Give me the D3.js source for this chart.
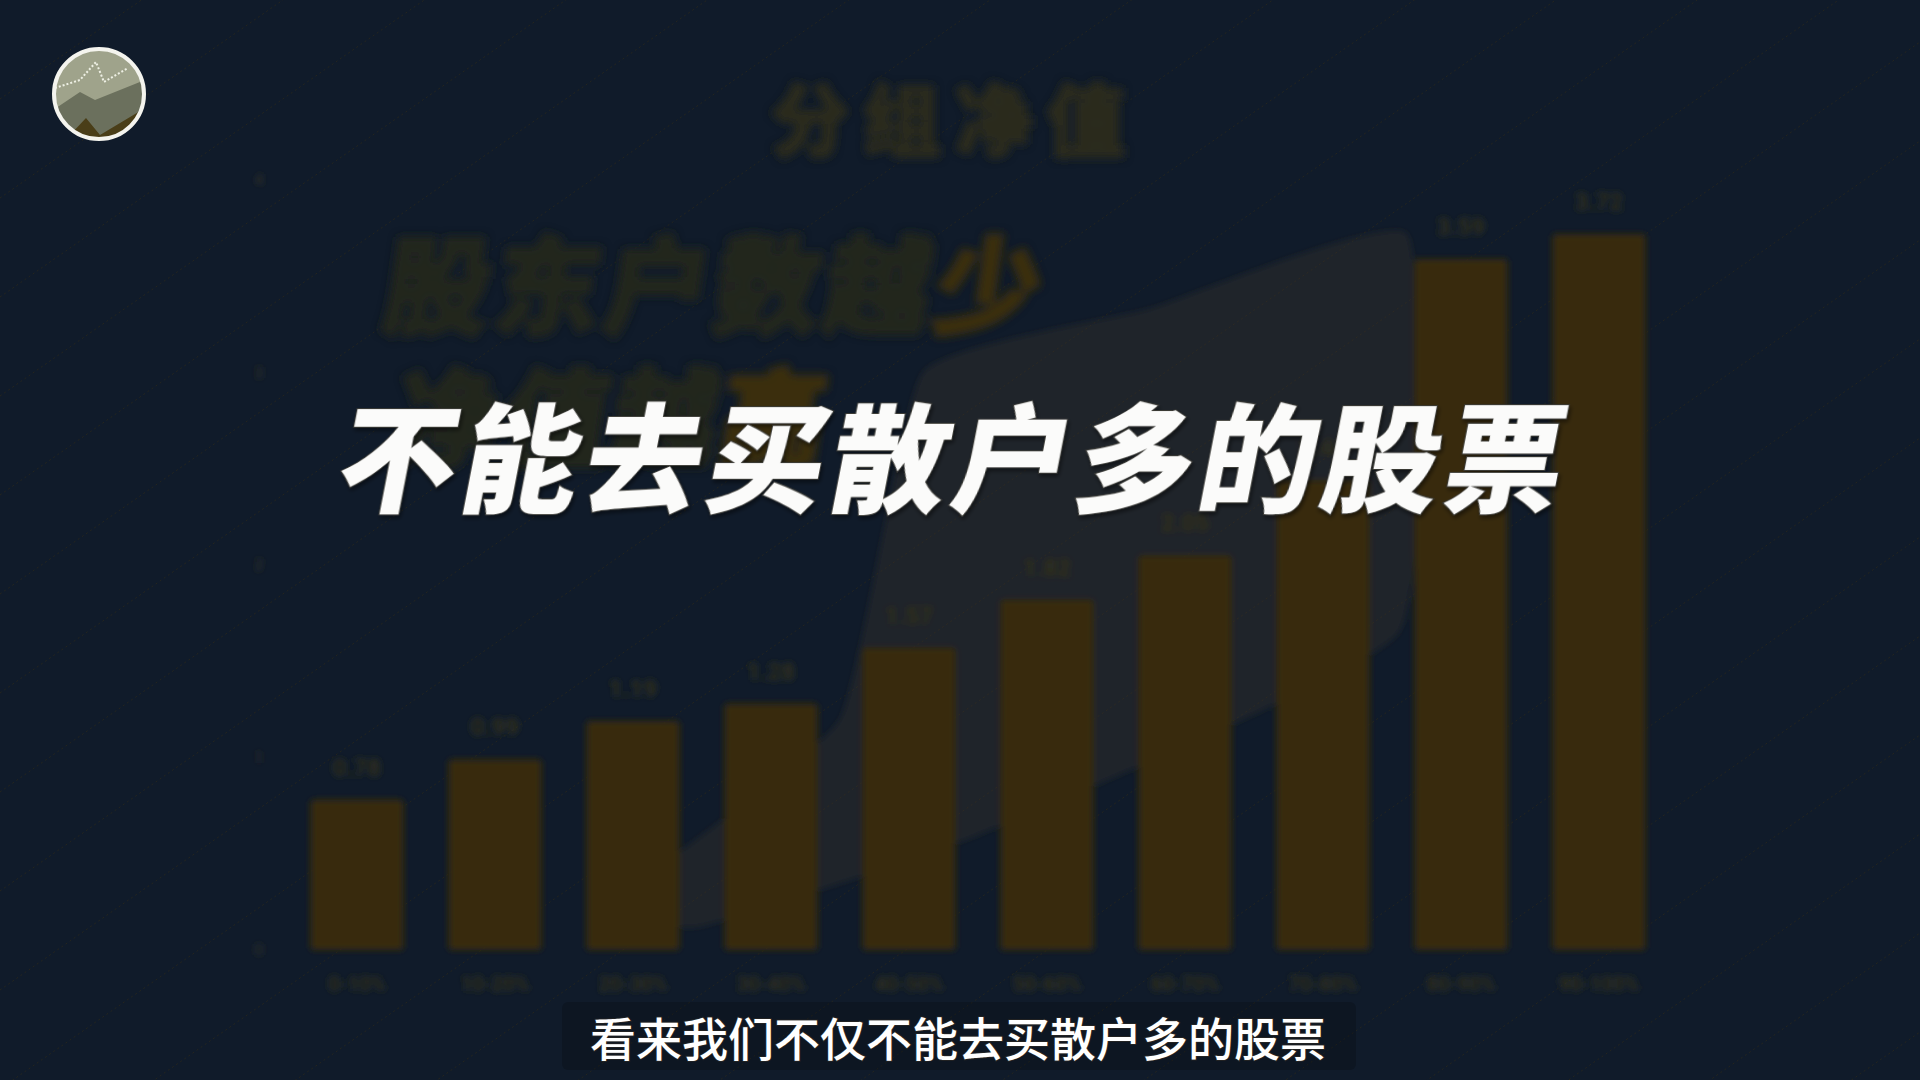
<!DOCTYPE html>
<html>
<head>
<meta charset="utf-8">
<script src="https://cdn.jsdelivr.net/npm/d3@7"></script>
<style>
  html, body { margin: 0; padding: 0; background: #101b2a; }
  svg { display: block; }
</style>
</head>
<body>
<div id="chart"></div>
<script>
// chart values
const categories = ['0-10%', '10-20%', '20-30%', '30-40%', '40-50%', '50-60%', '60-70%', '70-80%', '80-90%', '90-100%'];
const netValues = [0.78, 0.99, 1.19, 1.28, 1.57, 1.82, 2.05, 2.44, 3.59, 3.72];
const yTicks = [0, 1, 2, 3, 4];
// rising band behind the bars (category index, value)
const bandIndex = [1.9, 3.5, 4.1, 5.74, 7.61, 7.55, 4.51, 2.48];
const bandValue = [0.26, 1.2, 3.0, 3.33, 3.72, 1.65, 0.6, 0.12];

const chartTitle = '分组净值';
const headline1 = ['股东户数越', '少'];
const headline2 = ['净值越', '高'];
const caption = '不能去买散户多的股票';
const subtitle = '看来我们不仅不能去买散户多的股票';

const width = 1920;
const height = 1080;
const margin = {top: 180, right: 252, bottom: 130, left: 288};

const bg = '#101b2a';
const barColor = '#392c0c';
const dimText = '#24251e';
const dimGold = '#3a2e0f';

const svg = d3.select('#chart').append('svg')
    .attr('width', width).attr('height', height)
    .attr('viewBox', [0, 0, width, height]);

const defs = svg.append('defs');
defs.append('filter').attr('id', 'blur')
    .attr('x', '-10%').attr('y', '-10%').attr('width', '120%').attr('height', '120%')
    .append('feGaussianBlur').attr('stdDeviation', 3);
defs.append('filter').attr('id', 'blurText')
    .attr('x', '-10%').attr('y', '-30%').attr('width', '120%').attr('height', '160%')
    .append('feGaussianBlur').attr('stdDeviation', 4.5);
const shadow = defs.append('filter').attr('id', 'shadow');
shadow.append('feDropShadow').attr('dx', 2).attr('dy', 3).attr('stdDeviation', 2)
    .attr('flood-color', '#000').attr('flood-opacity', 0.45);
defs.append('clipPath').attr('id', 'avatarClip')
    .append('circle').attr('cx', 99).attr('cy', 94).attr('r', 44);

svg.append('rect').attr('width', width).attr('height', height).attr('fill', bg);

// faint diagonal stripes over the background
const stripes = svg.append('g').attr('stroke', '#2a281d').attr('stroke-width', 1)
    .attr('stroke-dasharray', '2 3').attr('opacity', 0.8);
stripes.selectAll('line').data(d3.range(-4, 34)).join('line')
    .attr('x1', 0).attr('y1', (k) => k * 99)
    .attr('x2', width).attr('y2', (k) => k * 99 - width * 0.7);

const x = d3.scaleBand().domain(categories)
    .range([margin.left, width - margin.right])
    .paddingInner(0.326).paddingOuter(0.163);
const y = d3.scaleLinear().domain([0, 4]).range([height - margin.bottom, margin.top]);
const xi = d3.scaleLinear().domain([0, categories.length - 1])
    .range([x(categories[0]) + x.bandwidth() / 2, x(categories[categories.length - 1]) + x.bandwidth() / 2]);

const chart = svg.append('g').attr('filter', 'url(#blur)');

// rising band
const band = d3.line().curve(d3.curveCardinalClosed.tension(0.6))
    .x((d) => xi(d[0])).y((d) => y(d[1]));
chart.append('path')
    .datum(bandIndex.map((v, i) => [v, bandValue[i]]))
    .attr('d', band)
    .attr('fill', '#3a3424').attr('opacity', 0.35);

// y axis labels
chart.append('g').selectAll('text').data(yTicks).join('text')
    .attr('x', 259).attr('y', (d) => y(d))
    .attr('text-anchor', 'middle').attr('dominant-baseline', 'central')
    .attr('font-family', 'Roboto, sans-serif').attr('font-size', 15)
    .attr('fill', '#3a3526')
    .text((d) => d);

chart.append('g').attr('fill', barColor).selectAll('rect').data(netValues).join('rect')
    .attr('x', (d, i) => x(categories[i]))
    .attr('y', (d) => y(d))
    .attr('width', x.bandwidth())
    .attr('height', (d) => y(0) - y(d))
    .attr('rx', 4);

chart.append('g').selectAll('text').data(netValues).join('text')
    .attr('x', (d, i) => x(categories[i]) + x.bandwidth() / 2)
    .attr('y', (d) => y(d) - 24)
    .attr('text-anchor', 'middle')
    .attr('font-family', 'Roboto, sans-serif').attr('font-size', 24).attr('font-weight', 700)
    .attr('fill', '#33301f')
    .text((d) => d.toFixed(2));

chart.append('g').selectAll('text').data(categories).join('text')
    .attr('x', (d) => x(d) + x.bandwidth() / 2)
    .attr('y', 984)
    .attr('text-anchor', 'middle').attr('dominant-baseline', 'central')
    .attr('font-family', 'Roboto, sans-serif').attr('font-size', 20).attr('font-weight', 700)
    .attr('fill', '#33301f')
    .text((d) => d);

// blurred title and headline behind the caption
const back = svg.append('g').attr('filter', 'url(#blurText)')
    .attr('font-family', '"Noto Sans CJK SC", sans-serif').attr('font-weight', 900);
back.append('text')
    .attr('x', 955).attr('y', 116)
    .attr('text-anchor', 'middle').attr('dominant-baseline', 'central')
    .attr('font-size', 78).attr('letter-spacing', 14)
    .attr('fill', '#2a2a1f').attr('stroke', '#2a2a1f').attr('stroke-width', 3)
    .text(chartTitle);
const h1 = back.append('text').attr('transform', 'translate(380,326) skewX(-8)')
    .attr('font-size', 106).attr('letter-spacing', 4).attr('stroke-width', 4);
h1.append('tspan').attr('fill', dimText).attr('stroke', dimText).text(headline1[0]);
h1.append('tspan').attr('fill', dimGold).attr('stroke', dimGold).text(headline1[1]);
const h2 = back.append('text').attr('transform', 'translate(391,458) skewX(-8)')
    .attr('font-size', 106).attr('letter-spacing', 2).attr('stroke-width', 4);
h2.append('tspan').attr('fill', dimText).attr('stroke', dimText).text(headline2[0]);
h2.append('tspan').attr('fill', dimGold).attr('stroke', dimGold).text(headline2[1]);

// avatar
const avatar = svg.append('g');
const face = avatar.append('g').attr('clip-path', 'url(#avatarClip)');
face.append('rect').attr('x', 50).attr('y', 45).attr('width', 100).attr('height', 100).attr('fill', '#9fa38b');
face.append('path').attr('d', 'M50,112 L80,92 L95,100 L150,78 L150,145 L50,145 Z').attr('fill', '#6b705d');
face.append('path').attr('d', 'M70,135 L86,118 L100,135 L150,105 L150,145 L70,145 Z').attr('fill', '#4a3e18');
face.append('path').attr('d', 'M55,88 L80,80 L96,62 L104,82 L128,68')
    .attr('fill', 'none').attr('stroke', '#eef0e4').attr('stroke-width', 2).attr('stroke-dasharray', '2 2');
avatar.append('circle').attr('cx', 99).attr('cy', 94).attr('r', 45)
    .attr('fill', 'none').attr('stroke', '#f4f4ee').attr('stroke-width', 4);

// main caption
svg.append('text')
    .attr('transform', 'translate(957,452) skewX(-11)')
    .attr('text-anchor', 'middle').attr('dominant-baseline', 'central')
    .attr('font-family', '"Noto Sans CJK SC", sans-serif').attr('font-weight', 900)
    .attr('font-size', 118).attr('letter-spacing', 5)
    .attr('fill', '#fbfbfa').attr('stroke', '#3a3a36').attr('stroke-width', 2)
    .attr('paint-order', 'stroke').attr('filter', 'url(#shadow)')
    .text(caption);

// subtitle strip
svg.append('rect').attr('x', 562).attr('y', 1002).attr('width', 794).attr('height', 68)
    .attr('rx', 6).attr('fill', '#000').attr('opacity', 0.18);
svg.append('text')
    .attr('x', 958).attr('y', 1036)
    .attr('text-anchor', 'middle').attr('dominant-baseline', 'central')
    .attr('font-family', '"Noto Sans CJK SC", sans-serif').attr('font-weight', 500)
    .attr('font-size', 46)
    .attr('fill', '#ffffff').attr('stroke', '#222').attr('stroke-width', 2)
    .attr('paint-order', 'stroke')
    .text(subtitle);
</script>
</body>
</html>
